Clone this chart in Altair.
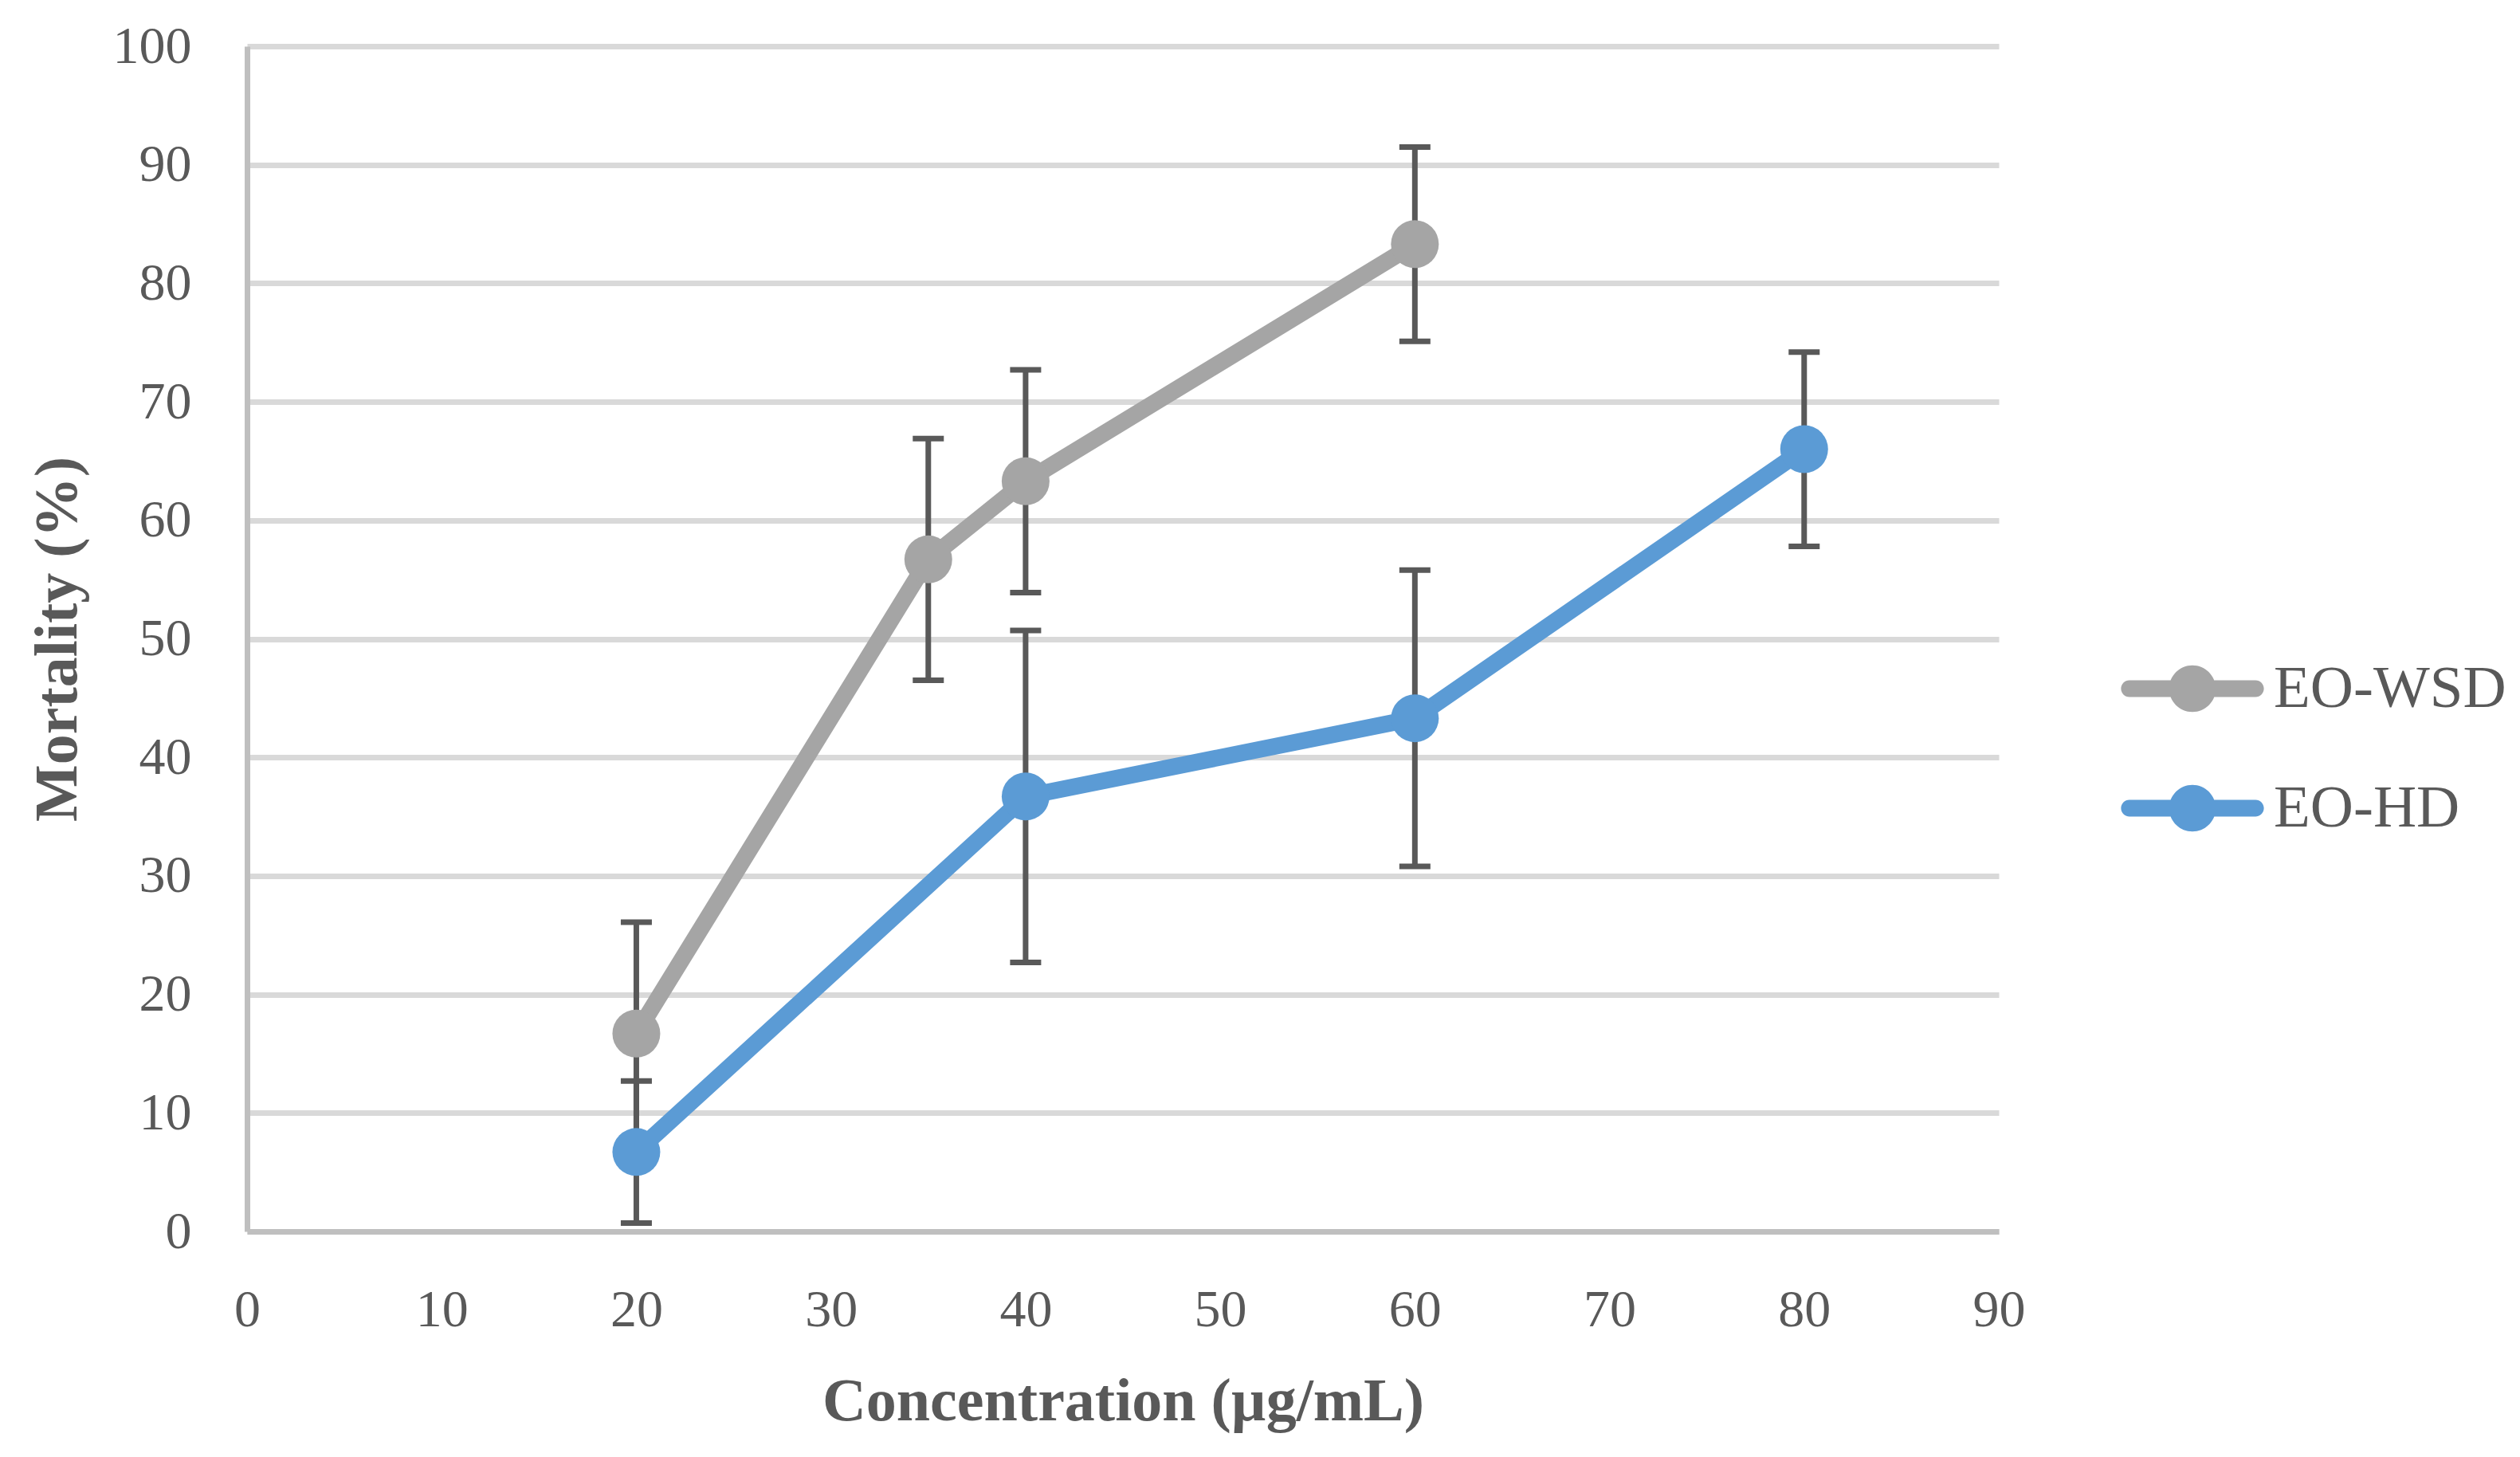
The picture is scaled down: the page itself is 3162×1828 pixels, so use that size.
import altair as alt
import pandas as pd

series_names = ["EO-WSD", "EO-HD"]
series_colors = ["#A5A5A5", "#5B9BD5"]

wsd_conc = [20, 35, 40, 60]
wsd_mort = [16.7, 56.7, 63.3, 83.3]
wsd_err = [9.4, 10.2, 9.4, 8.2]

hd_conc = [20, 40, 60, 80]
hd_mort = [6.7, 36.7, 43.3, 66.0]
hd_err = [6.0, 14.0, 12.5, 8.2]

x_ticks = [0, 10, 20, 30, 40, 50, 60, 70, 80, 90]
y_ticks = [0, 10, 20, 30, 40, 50, 60, 70, 80, 90, 100]

rows = []
for name, xs, ys, es in [("EO-WSD", wsd_conc, wsd_mort, wsd_err),
                         ("EO-HD", hd_conc, hd_mort, hd_err)]:
    for xv, yv, ev in zip(xs, ys, es):
        rows.append({"series": name, "conc": xv, "mort": yv,
                     "lo": yv - ev, "hi": yv + ev})
df = pd.DataFrame(rows)

FONT = "Liberation Serif"
TXT = "#595959"
X_TITLE = "Concentration (µg/mL)"
Y_TITLE = "Mortality (%)"

xscale = alt.Scale(domain=[0, 90], nice=False, zero=False)
yscale = alt.Scale(domain=[0, 100], nice=False, zero=False)

x_axis = alt.Axis(values=x_ticks, grid=False, ticks=False, tickSize=0,
                  labelFlush=False, labelOverlap=False,
                  labelPadding=66, titleY=236, titleBaseline="alphabetic")
y_axis = alt.Axis(values=y_ticks, grid=True, ticks=False, tickSize=0,
                  labelFlush=False, labelOverlap=False,
                  labelPadding=70, titleX=-215, titleBaseline="alphabetic")

X = alt.X("conc:Q", scale=xscale, axis=x_axis, title=X_TITLE)

color_scale = alt.Scale(domain=series_names, range=series_colors)

legend_path = ("M-1.055,-0.14 L1.055,-0.14 A0.14,0.14 0 0 1 1.055,0.14 "
               "L-1.055,0.14 A0.14,0.14 0 0 1 -1.055,-0.14 Z "
               "M-0.39,0 A0.39,0.39 0 1 1 0.39,0 A0.39,0.39 0 1 1 -0.39,0 Z")

legend = alt.Legend(title=None, orient="none", legendX=2366, legendY=731,
                    symbolType=legend_path, symbolSize=22500,
                    symbolStrokeWidth=0, symbolOpacity=1,
                    labelFont=FONT, labelFontSize=75, labelColor=TXT,
                    labelLimit=0, labelOffset=27, rowPadding=37, padding=0)

color = alt.Color("series:N", scale=color_scale, legend=legend, title=None)

base = alt.Chart(df)

lines = base.mark_line(strokeWidth=21, strokeCap="round", strokeJoin="round").encode(
    x=X,
    y=alt.Y("mort:Q", scale=yscale, axis=y_axis, title=Y_TITLE),
    color=color,
    order=alt.Order("conc:Q"),
)

err = base.mark_rule(color="#595959", strokeWidth=7).encode(
    x=X,
    y=alt.Y("lo:Q", scale=yscale, title=Y_TITLE),
    y2="hi:Q",
)

cap_lo = base.mark_tick(orient="horizontal", size=39, thickness=7,
                        color="#595959", opacity=1).encode(
    x=X, y=alt.Y("lo:Q", scale=yscale, title=Y_TITLE))
cap_hi = base.mark_tick(orient="horizontal", size=39, thickness=7,
                        color="#595959", opacity=1).encode(
    x=X, y=alt.Y("hi:Q", scale=yscale, title=Y_TITLE))

points = base.mark_circle(size=3600, opacity=1).encode(
    x=X,
    y=alt.Y("mort:Q", scale=yscale, title=Y_TITLE),
    color=color,
)

chart = alt.layer(lines, err, cap_lo, cap_hi, points).properties(
    width=2198, height=1487,
    autosize=alt.AutoSizeParams(type="none"),
    padding={"left": 302, "top": 50, "right": 646, "bottom": 275},
    background="white",
).configure_view(stroke=None).configure_axis(
    domainColor="#BFBFBF", domainWidth=7,
    gridColor="#D9D9D9", gridWidth=7,
    labelFont=FONT, labelFontSize=66, labelColor=TXT,
    titleFont=FONT, titleFontSize=76, titleFontWeight="bold", titleColor=TXT,
)

chart.save("out.html", embed_options={"renderer": "svg", "actions": False})
